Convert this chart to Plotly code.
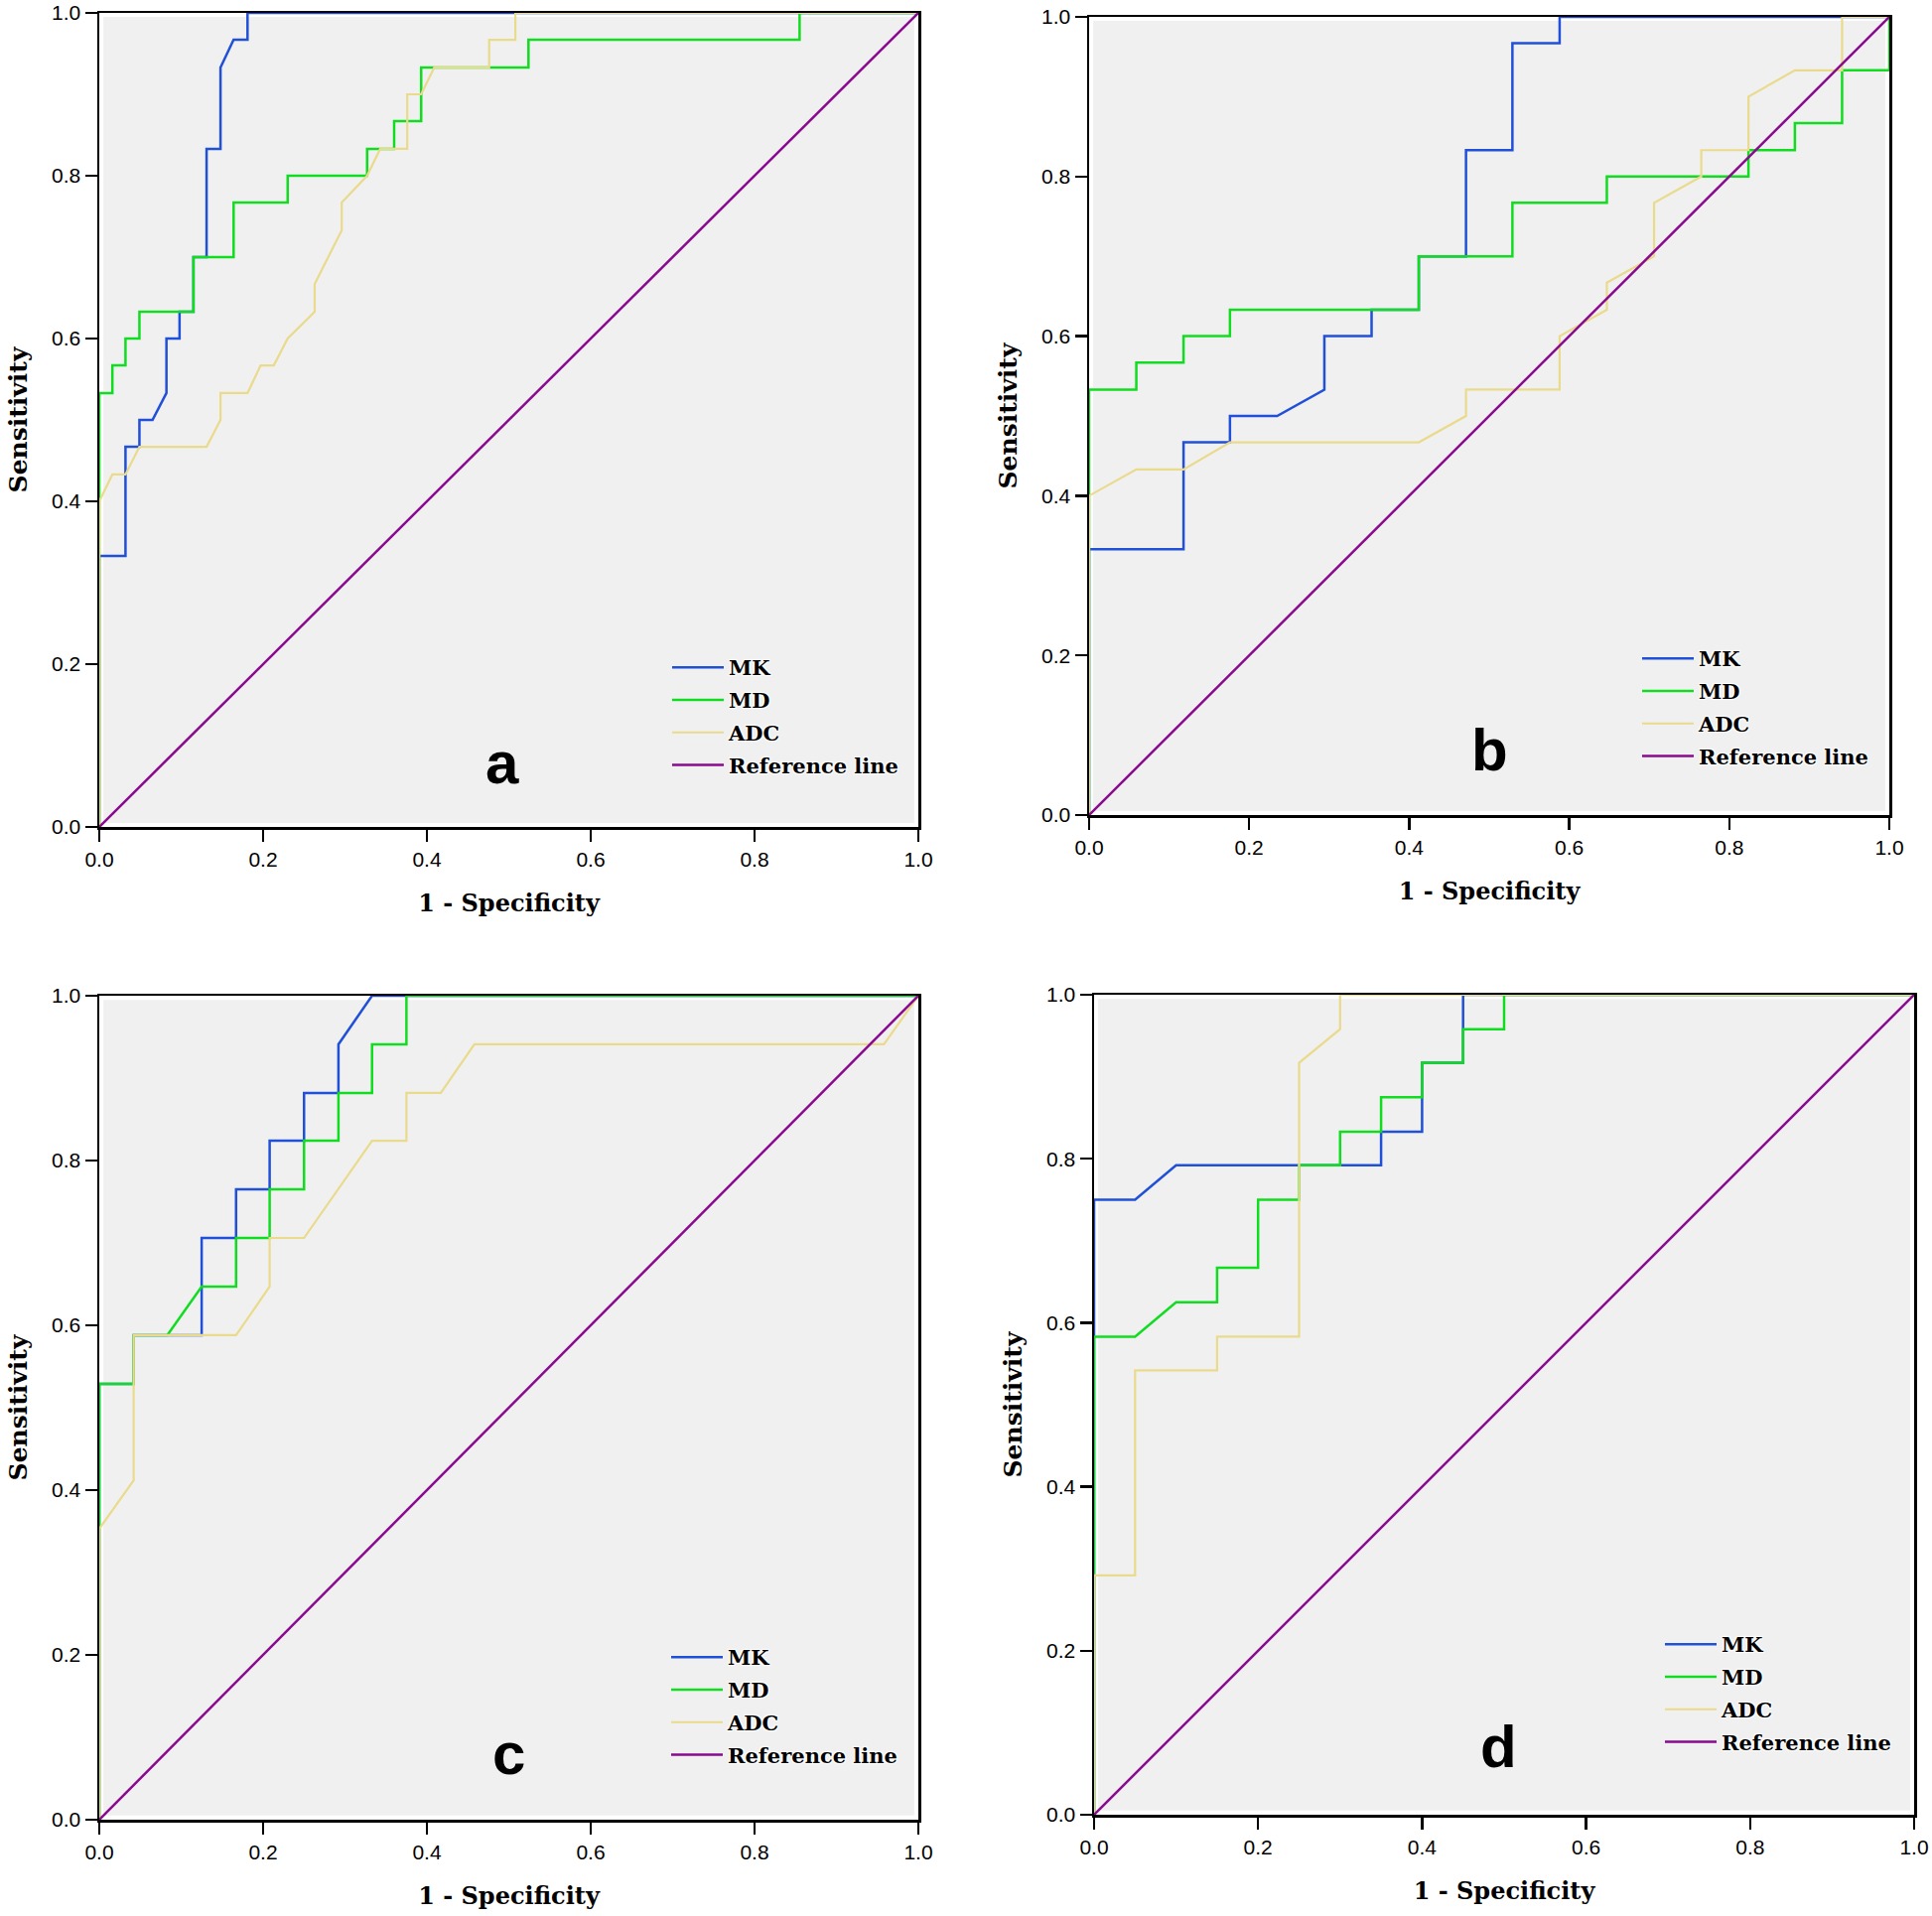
import plotly.graph_objects as go

# ---------------- data ----------------
SERIES = ["MK", "MD", "ADC", "Reference line"]
PANEL_LETTERS = ["a", "b", "c", "d"]
TICKS = [0.0, 0.2, 0.4, 0.6, 0.8, 1.0]
TICK_TEXT = ["0.0", "0.2", "0.4", "0.6", "0.8", "1.0"]

# panel a
A_MK_FPR = [0, 0, 0.032, 0.032, 0.049, 0.049, 0.065, 0.082, 0.082, 0.098, 0.098, 0.115, 0.115, 0.131, 0.131, 0.148, 0.148, 0.164, 0.181, 0.181, 1]
A_MK_TPR = [0, 0.333, 0.333, 0.467, 0.467, 0.5, 0.5, 0.533, 0.6, 0.6, 0.633, 0.633, 0.7, 0.7, 0.833, 0.833, 0.933, 0.967, 0.967, 1, 1]
A_MD_FPR = [0, 0, 0.016, 0.016, 0.032, 0.032, 0.049, 0.049, 0.115, 0.115, 0.164, 0.164, 0.23, 0.23, 0.327, 0.327, 0.36, 0.36, 0.393, 0.393, 0.524, 0.524, 0.855, 0.855, 1]
A_MD_TPR = [0, 0.533, 0.533, 0.567, 0.567, 0.6, 0.6, 0.633, 0.633, 0.7, 0.7, 0.767, 0.767, 0.8, 0.8, 0.833, 0.833, 0.867, 0.867, 0.933, 0.933, 0.967, 0.967, 1, 1]
A_ADC_FPR = [0, 0, 0.016, 0.032, 0.049, 0.131, 0.148, 0.148, 0.181, 0.197, 0.213, 0.23, 0.263, 0.263, 0.296, 0.296, 0.327, 0.343, 0.376, 0.376, 0.393, 0.409, 0.476, 0.476, 0.508, 0.508, 1]
A_ADC_TPR = [0, 0.4, 0.433, 0.433, 0.467, 0.467, 0.5, 0.533, 0.533, 0.567, 0.567, 0.6, 0.633, 0.667, 0.733, 0.767, 0.8, 0.833, 0.833, 0.9, 0.9, 0.933, 0.933, 0.967, 0.967, 1, 1]

# panel b
B_MK_FPR = [0, 0, 0.118, 0.118, 0.176, 0.176, 0.235, 0.294, 0.294, 0.353, 0.353, 0.412, 0.412, 0.471, 0.471, 0.529, 0.529, 0.588, 0.588, 1]
B_MK_TPR = [0, 0.333, 0.333, 0.467, 0.467, 0.5, 0.5, 0.533, 0.6, 0.6, 0.633, 0.633, 0.7, 0.7, 0.833, 0.833, 0.967, 0.967, 1, 1]
B_MD_FPR = [0, 0, 0.059, 0.059, 0.118, 0.118, 0.176, 0.176, 0.412, 0.412, 0.529, 0.529, 0.647, 0.647, 0.824, 0.824, 0.882, 0.882, 0.941, 0.941, 1, 1]
B_MD_TPR = [0, 0.533, 0.533, 0.567, 0.567, 0.6, 0.6, 0.633, 0.633, 0.7, 0.7, 0.767, 0.767, 0.8, 0.8, 0.833, 0.833, 0.867, 0.867, 0.933, 0.933, 1]
B_ADC_FPR = [0, 0, 0.059, 0.118, 0.176, 0.412, 0.471, 0.471, 0.588, 0.588, 0.647, 0.647, 0.706, 0.706, 0.765, 0.765, 0.824, 0.824, 0.882, 0.941, 0.941, 1]
B_ADC_TPR = [0, 0.4, 0.433, 0.433, 0.467, 0.467, 0.5, 0.533, 0.533, 0.6, 0.633, 0.667, 0.7, 0.767, 0.8, 0.833, 0.833, 0.9, 0.933, 0.933, 1, 1]

# panel c
C_MK_FPR = [0, 0, 0.042, 0.042, 0.125, 0.125, 0.167, 0.167, 0.208, 0.208, 0.25, 0.25, 0.292, 0.292, 0.333, 1]
C_MK_TPR = [0, 0.529, 0.529, 0.588, 0.588, 0.706, 0.706, 0.765, 0.765, 0.824, 0.824, 0.882, 0.882, 0.941, 1, 1]
C_MD_FPR = [0, 0, 0.042, 0.042, 0.083, 0.125, 0.167, 0.167, 0.208, 0.208, 0.25, 0.25, 0.292, 0.292, 0.333, 0.333, 0.375, 0.375, 1]
C_MD_TPR = [0, 0.529, 0.529, 0.588, 0.588, 0.647, 0.647, 0.706, 0.706, 0.765, 0.765, 0.824, 0.824, 0.882, 0.882, 0.941, 0.941, 1, 1]
C_ADC_FPR = [0, 0, 0.042, 0.042, 0.167, 0.208, 0.208, 0.25, 0.333, 0.375, 0.375, 0.417, 0.458, 0.958, 1]
C_ADC_TPR = [0, 0.353, 0.412, 0.588, 0.588, 0.647, 0.706, 0.706, 0.824, 0.824, 0.882, 0.882, 0.941, 0.941, 1]

# panel d
D_MK_FPR = [0, 0, 0.05, 0.1, 0.35, 0.35, 0.4, 0.4, 0.45, 0.45, 1]
D_MK_TPR = [0, 0.75, 0.75, 0.792, 0.792, 0.833, 0.833, 0.917, 0.917, 1, 1]
D_MD_FPR = [0, 0, 0.05, 0.1, 0.15, 0.15, 0.2, 0.2, 0.25, 0.25, 0.3, 0.3, 0.35, 0.35, 0.4, 0.4, 0.45, 0.45, 0.5, 0.5, 1]
D_MD_TPR = [0, 0.583, 0.583, 0.625, 0.625, 0.667, 0.667, 0.75, 0.75, 0.792, 0.792, 0.833, 0.833, 0.875, 0.875, 0.917, 0.917, 0.958, 0.958, 1, 1]
D_ADC_FPR = [0, 0, 0.05, 0.05, 0.15, 0.15, 0.25, 0.25, 0.3, 0.3, 1]
D_ADC_TPR = [0, 0.292, 0.292, 0.542, 0.542, 0.583, 0.583, 0.917, 0.958, 1, 1]

REF_FPR = [0, 1]
REF_TPR = [0, 1]

PANELS = [
    [(A_MK_FPR, A_MK_TPR), (A_MD_FPR, A_MD_TPR), (A_ADC_FPR, A_ADC_TPR), (REF_FPR, REF_TPR)],
    [(B_MK_FPR, B_MK_TPR), (B_MD_FPR, B_MD_TPR), (B_ADC_FPR, B_ADC_TPR), (REF_FPR, REF_TPR)],
    [(C_MK_FPR, C_MK_TPR), (C_MD_FPR, C_MD_TPR), (C_ADC_FPR, C_ADC_TPR), (REF_FPR, REF_TPR)],
    [(D_MK_FPR, D_MK_TPR), (D_MD_FPR, D_MD_TPR), (D_ADC_FPR, D_ADC_TPR), (REF_FPR, REF_TPR)],
]

# ---------------- styling / layout ----------------
COLORS = ["#2050D8", "#10DD20", "#E9DA8C", "#8A0A8F"]
WIDTHS = [2.5, 2.5, 2.2, 2.5]

W, H = 1946, 1930
# plot areas in page pixels: (left, right, top, bottom)
AREAS = [(100, 925, 13, 833), (1097, 1903, 17, 821), (100, 925, 1003, 1833), (1102, 1928, 1002, 1828)]
# legend box anchor (left, top) in page pixels
LEG_POS = [(672, 652), (1649, 643), (671, 1649), (1672, 1636)]
LETTER_POS = [(0.492, 0.079), (0.501, 0.081), (0.50, 0.080), (0.493, 0.083)]


def px_x(p):
    return p / W


def px_y(p):
    return 1 - p / H


fig = go.Figure()
layout = dict(
    template="none",
    width=W, height=H, margin=dict(l=0, r=0, t=0, b=0, autoexpand=False),
    paper_bgcolor="white", plot_bgcolor="white", showlegend=True,
    annotations=[], shapes=[],
)

for i, series in enumerate(PANELS):
    sfx = "" if i == 0 else str(i + 1)
    leg = "legend" if i == 0 else f"legend{i + 1}"
    for j, (xs, ys) in enumerate(series):
        fig.add_trace(go.Scatter(
            x=xs, y=ys, mode="lines", name=SERIES[j],
            line=dict(color=COLORS[j], width=WIDTHS[j]),
            xaxis="x" + sfx, yaxis="y" + sfx, legend=leg,
            legendgroup=f"g{i}{j}", hoverinfo="skip",
        ))
    l, r, t, b = AREAS[i]
    axis_common = dict(
        range=[0, 1], tickvals=TICKS, ticktext=TICK_TEXT, ticks="outside",
        ticklen=12, tickwidth=2.5, tickcolor="black", showline=True, linewidth=2.5,
        linecolor="black", mirror=True, showgrid=False, zeroline=False, automargin=False,
        ticklabeloverflow="allow",
        tickfont=dict(family="Liberation Sans", size=21, color="black"),
    )
    layout["xaxis" + sfx] = dict(
        axis_common, domain=[px_x(l), px_x(r)], anchor="y" + sfx,
        title=dict(text="1 - Specificity", standoff=26,
                   font=dict(family="DejaVu Serif", size=24, color="black", weight="bold")),
    )
    layout["yaxis" + sfx] = dict(
        axis_common, domain=[px_y(b), px_y(t)], anchor="x" + sfx,
        title=dict(text="Sensitivity", standoff=18,
                   font=dict(family="DejaVu Serif", size=25, color="black", weight="bold")),
    )
    lx, ly = LEG_POS[i]
    layout[leg] = dict(
        x=px_x(lx), y=px_y(ly), xanchor="left", yanchor="top",
        bgcolor="rgba(0,0,0,0)", borderwidth=0, itemwidth=52, tracegroupgap=2.5,
        font=dict(family="DejaVu Serif", size=21, color="black", weight="bold",
                  shadow="1px 1px 1px #fff, -1px -1px 1px #fff, 1px -1px 1px #fff, -1px 1px 1px #fff"),
        itemclick=False, itemdoubleclick=False,
    )
    layout["shapes"].append(dict(
        type="rect", xref=f"x{sfx} domain", yref=f"y{sfx} domain",
        x0=0.005, x1=0.995, y0=0.005, y1=0.995,
        fillcolor="#F0F0F0", line=dict(width=0), layer="below",
    ))
    ax, ay = LETTER_POS[i]
    layout["annotations"].append(dict(
        text=PANEL_LETTERS[i], x=ax, y=ay, xref="x" + sfx, yref="y" + sfx,
        showarrow=False, xanchor="center", yanchor="middle",
        font=dict(family="Liberation Sans", size=60, color="black", weight="bold"),
    ))

fig.update_layout(**layout)
fig.write_html(
    "out.html",
    config={"displayModeBar": False, "staticPlot": True},
    post_script="document.body.style.margin='0';document.body.style.overflow='hidden';",
)
